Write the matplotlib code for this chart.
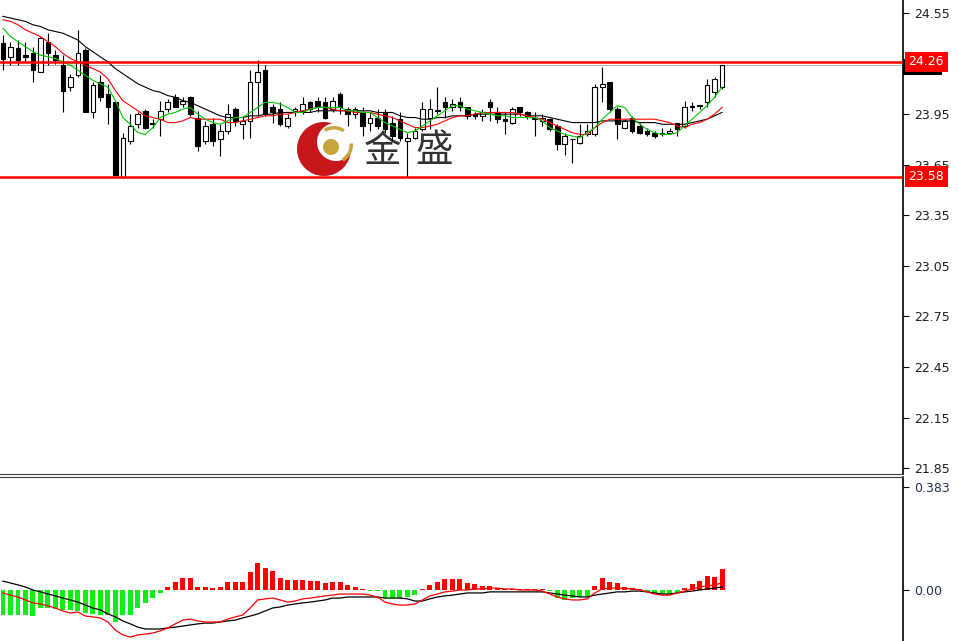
import numpy as np
import matplotlib
matplotlib.use("Agg")
import matplotlib.pyplot as plt
from matplotlib.patches import Circle, Wedge
from matplotlib.transforms import blended_transform_factory

# candles (one per bar)
opens = [24.37, 24.29, 24.34, 24.30, 24.31, 24.20, 24.38, 24.30, 24.24, 24.11,
         24.18, 24.33, 23.96, 24.14, 24.07, 24.02, 23.58, 23.79, 23.89, 23.97,
         23.89, 23.92, 23.98, 24.05, 24.01, 24.05, 23.93, 23.79, 23.89, 23.80,
         23.85, 23.98, 23.89, 23.91, 24.14, 24.21, 23.99, 23.98, 23.88, 23.97,
         23.97, 24.02, 24.03, 24.02, 23.98, 24.07, 23.98, 23.95, 23.96, 23.90,
         23.93, 23.96, 23.90, 23.92, 23.79, 23.81, 23.86, 23.93, 23.97, 24.02,
         23.99, 24.02, 23.99, 23.95, 23.94, 24.02, 23.96, 23.92, 23.90, 23.99,
         23.96, 23.93, 23.91, 23.92, 23.88, 23.77, 23.80, 23.78, 23.83, 23.83,
         24.11, 24.14, 23.98, 23.87, 23.93, 23.88, 23.85, 23.84, 23.83, 23.84,
         23.90, 23.88, 23.99, 24.00, 24.02, 24.08, 24.11]
highs = [24.42, 24.38, 24.39, 24.38, 24.35, 24.41, 24.43, 24.33, 24.30, 24.19,
         24.45, 24.34, 24.14, 24.18, 24.13, 24.02, 23.84, 23.95, 23.96, 23.98,
         23.92, 24.03, 24.04, 24.07, 24.05, 24.06, 23.97, 23.91, 23.93, 23.89,
         24.01, 23.99, 23.94, 24.21, 24.27, 24.24, 24.01, 24.02, 23.95, 23.99,
         24.05, 24.03, 24.05, 24.05, 24.05, 24.08, 23.99, 23.99, 23.99, 23.96,
         23.98, 23.98, 23.94, 23.96, 23.84, 23.87, 24.02, 24.04, 24.11, 24.05,
         24.04, 24.05, 23.99, 23.96, 23.98, 24.04, 23.99, 23.96, 23.99, 23.99,
         23.97, 23.96, 23.95, 23.93, 23.89, 23.84, 23.80, 23.89, 23.89, 24.13,
         24.23, 24.14, 23.99, 23.92, 23.94, 23.90, 23.87, 23.85, 23.87, 23.87,
         23.90, 24.03, 24.02, 24.00, 24.16, 24.17, 24.24]
lows = [24.21, 24.24, 24.24, 24.26, 24.14, 24.20, 24.24, 24.25, 23.96, 24.09,
        24.17, 23.96, 23.93, 24.03, 23.89, 23.59, 23.57, 23.77, 23.87, 23.86,
        23.87, 23.82, 23.96, 23.99, 23.99, 23.94, 23.73, 23.77, 23.76, 23.70,
        23.83, 23.88, 23.80, 23.81, 23.94, 23.94, 23.90, 23.88, 23.87, 23.94,
        23.95, 23.96, 23.96, 23.92, 23.96, 23.95, 23.88, 23.93, 23.82, 23.85,
        23.86, 23.84, 23.79, 23.79, 23.58, 23.80, 23.85, 23.86, 23.95, 23.93,
        23.97, 23.97, 23.92, 23.92, 23.91, 23.91, 23.90, 23.83, 23.89, 23.94,
        23.92, 23.82, 23.88, 23.85, 23.74, 23.71, 23.66, 23.77, 23.82, 23.82,
        24.02, 23.96, 23.80, 23.86, 23.84, 23.83, 23.82, 23.81, 23.82, 23.83,
        23.82, 23.87, 23.97, 23.98, 23.99, 24.05, 24.10]
closes = [24.28, 24.35, 24.27, 24.29, 24.21, 24.40, 24.31, 24.27, 24.09, 24.17,
          24.31, 23.96, 24.12, 24.05, 23.99, 23.59, 23.81, 23.88, 23.95, 23.87,
          23.90, 23.97, 24.02, 23.99, 24.03, 23.95, 23.76, 23.88, 23.79, 23.85,
          23.95, 23.91, 23.91, 24.14, 24.20, 23.95, 23.96, 23.89, 23.93, 23.98,
          24.01, 23.98, 23.99, 23.93, 24.03, 23.99, 23.95, 23.98, 23.88, 23.93,
          23.88, 23.86, 23.82, 23.81, 23.81, 23.85, 23.98, 23.98, 23.97, 23.99,
          24.01, 23.99, 23.94, 23.94, 23.96, 23.99, 23.92, 23.91, 23.98, 23.96,
          23.94, 23.92, 23.93, 23.86, 23.77, 23.82, 23.80, 23.82, 23.85, 24.11,
          24.13, 23.98, 23.89, 23.91, 23.85, 23.84, 23.83, 23.82, 23.84, 23.85,
          23.86, 23.99, 24.00, 24.00, 24.12, 24.16, 24.24]

# moving averages as drawn on the chart
ma_slow = [24.53, 24.52, 24.51, 24.50, 24.48, 24.47, 24.45, 24.44, 24.43, 24.41,
           24.39, 24.35, 24.32, 24.29, 24.26, 24.22, 24.19, 24.16, 24.13, 24.11,
           24.09, 24.08, 24.06, 24.05, 24.03, 24.02, 24.00, 23.98, 23.96, 23.94,
           23.93, 23.93, 23.93, 23.94, 23.94, 23.95, 23.95, 23.96, 23.96, 23.96,
           23.96, 23.96, 23.97, 23.97, 23.97, 23.97, 23.97, 23.97, 23.97, 23.97,
           23.96, 23.96, 23.96, 23.94, 23.93, 23.93, 23.92, 23.92, 23.93, 23.93,
           23.94, 23.94, 23.94, 23.95, 23.95, 23.95, 23.95, 23.95, 23.95, 23.95,
           23.94, 23.94, 23.94, 23.93, 23.92, 23.91, 23.90, 23.90, 23.90, 23.90,
           23.91, 23.91, 23.91, 23.91, 23.91, 23.90, 23.90, 23.90, 23.89, 23.89,
           23.89, 23.89, 23.90, 23.91, 23.92, 23.94, 23.96]
ma_mid = [24.51, 24.50, 24.48, 24.45, 24.43, 24.41, 24.38, 24.35, 24.31, 24.28,
          24.26, 24.24, 24.22, 24.20, 24.16, 24.09, 24.03, 24.00, 23.97, 23.94,
          23.93, 23.92, 23.90, 23.90, 23.91, 23.93, 23.92, 23.92, 23.92, 23.92,
          23.90, 23.90, 23.91, 23.92, 23.93, 23.94, 23.94, 23.95, 23.95, 23.96,
          23.97, 23.98, 23.99, 23.99, 23.98, 23.97, 23.97, 23.96, 23.96, 23.96,
          23.95, 23.94, 23.93, 23.91, 23.89, 23.87, 23.87, 23.88, 23.89, 23.91,
          23.93, 23.94, 23.94, 23.95, 23.96, 23.96, 23.96, 23.96, 23.96, 23.95,
          23.94, 23.93, 23.92, 23.90, 23.88, 23.86, 23.84, 23.83, 23.83, 23.87,
          23.90, 23.92, 23.92, 23.92, 23.92, 23.92, 23.92, 23.92, 23.91, 23.90,
          23.88, 23.87, 23.89, 23.90, 23.92, 23.95, 23.99]
ma_fast = [24.46, 24.41, 24.38, 24.35, 24.32, 24.30, 24.29, 24.28, 24.26, 24.24,
           24.21, 24.18, 24.15, 24.13, 24.11, 24.03, 23.93, 23.89, 23.84, 23.83,
           23.87, 23.93, 23.95, 23.96, 23.98, 23.99, 23.95, 23.92, 23.90, 23.89,
           23.91, 23.93, 23.93, 23.96, 23.99, 24.02, 24.02, 24.01, 23.99, 23.96,
           23.96, 23.98, 23.99, 23.99, 23.99, 23.99, 23.97, 23.97, 23.96, 23.96,
           23.93, 23.90, 23.88, 23.86, 23.84, 23.85, 23.88, 23.91, 23.94, 23.97,
           24.00, 24.00, 23.98, 23.97, 23.96, 23.95, 23.94, 23.94, 23.93, 23.93,
           23.93, 23.93, 23.91, 23.87, 23.85, 23.83, 23.82, 23.81, 23.84, 23.87,
           23.92, 23.96, 24.00, 23.99, 23.93, 23.89, 23.86, 23.84, 23.83, 23.83,
           23.84, 23.88, 23.92, 23.96, 24.00, 24.05, 24.11]

# MACD panel
macd_hist = [-0.093, -0.093, -0.093, -0.093, -0.097, -0.067, -0.067, -0.071, -0.074, -0.074,
             -0.078, -0.086, -0.089, -0.093, -0.093, -0.119, -0.093, -0.093, -0.067, -0.048,
             -0.030, -0.011, 0.012, 0.031, 0.045, 0.045, 0.012, 0.010, 0.006, 0.010,
             0.030, 0.030, 0.030, 0.067, 0.100, 0.082, 0.071, 0.045, 0.037, 0.037,
             0.037, 0.033, 0.033, 0.026, 0.030, 0.030, 0.019, 0.011, 0.003, -0.002,
             -0.003, -0.028, -0.028, -0.028, -0.025, -0.019, 0.003, 0.019, 0.030, 0.041,
             0.041, 0.041, 0.026, 0.022, 0.015, 0.015, 0.006, 0.004, 0.004, 0.003,
             0.003, 0.002, 0.002, -0.003, -0.031, -0.037, -0.031, -0.027, -0.027, 0.015,
             0.043, 0.031, 0.026, 0.011, 0.006, 0.002, -0.006, -0.012, -0.015, -0.015,
             -0.012, 0.006, 0.024, 0.033, 0.052, 0.050, 0.078]
macd_main = [-0.011, -0.019, -0.026, -0.037, -0.048, -0.052, -0.059, -0.067, -0.078, -0.086,
             -0.082, -0.097, -0.100, -0.104, -0.119, -0.149, -0.167, -0.175, -0.167, -0.164,
             -0.160, -0.152, -0.141, -0.126, -0.112, -0.108, -0.115, -0.119, -0.119, -0.119,
             -0.108, -0.100, -0.093, -0.067, -0.037, -0.033, -0.030, -0.037, -0.045, -0.041,
             -0.033, -0.030, -0.026, -0.022, -0.019, -0.015, -0.015, -0.015, -0.015, -0.019,
             -0.026, -0.045, -0.052, -0.056, -0.056, -0.052, -0.037, -0.022, -0.015, -0.007,
             -0.004, 0.000, 0.000, 0.004, 0.004, 0.007, 0.007, 0.004, 0.004, 0.000,
             0.000, 0.000, -0.004, -0.015, -0.026, -0.033, -0.037, -0.037, -0.033, -0.011,
             0.004, 0.007, 0.007, 0.007, 0.004, 0.000, -0.007, -0.015, -0.019, -0.019,
             -0.011, -0.004, 0.004, 0.011, 0.015, 0.019, 0.026]
macd_signal = [0.033, 0.026, 0.019, 0.011, 0.000, -0.007, -0.015, -0.022, -0.030, -0.037,
               -0.045, -0.056, -0.067, -0.074, -0.089, -0.100, -0.115, -0.126, -0.138, -0.145,
               -0.145, -0.145, -0.141, -0.138, -0.134, -0.130, -0.126, -0.123, -0.123, -0.119,
               -0.115, -0.112, -0.104, -0.097, -0.089, -0.078, -0.067, -0.063, -0.056, -0.052,
               -0.048, -0.045, -0.041, -0.037, -0.030, -0.030, -0.026, -0.026, -0.026, -0.026,
               -0.026, -0.030, -0.030, -0.030, -0.033, -0.041, -0.041, -0.033, -0.026, -0.022,
               -0.019, -0.015, -0.011, -0.011, -0.011, -0.007, -0.007, -0.007, -0.007, -0.007,
               -0.007, -0.007, -0.007, -0.011, -0.015, -0.019, -0.022, -0.026, -0.026, -0.019,
               -0.015, -0.011, -0.007, -0.007, -0.004, -0.004, -0.007, -0.011, -0.015, -0.015,
               -0.011, -0.007, -0.004, 0.000, 0.004, 0.007, 0.011]

resistance = 24.26
support = 23.58
last_price = 24.24
price_ticks = [24.55, 23.95, 23.65, 23.35, 23.05, 22.75, 22.45, 22.15, 21.85]
macd_ticks = [0.383, 0.0]
macd_tick_labels = ["0.383", "0.00"]

W, H = 958, 641


def px_rect(x0, y0, x1, y1):
    return [x0 / W, 1 - y1 / H, (x1 - x0) / W, (y1 - y0) / H]


fig = plt.figure(figsize=(W / 100, H / 100), dpi=100)
fig.patch.set_facecolor("white")

# watermark logo, drawn underneath the price panel
lg = fig.add_axes([0, 0, 1, 1], zorder=0)
lg.set_xlim(0, W); lg.set_ylim(H, 0); lg.axis("off")
lg.add_patch(Circle((324, 149), 27, color="#c8161d", lw=0))
lg.add_patch(Circle((336, 142), 19, color="white", lw=0))
lg.add_patch(Wedge((334, 145), 19, 238, 305, width=3.5, color="#c9a43a", lw=0))
lg.add_patch(Wedge((334, 145), 19, -5, 60, width=3.5, color="#c9a43a", lw=0))
lg.add_patch(Circle((331, 147), 8, color="#c9a43a", lw=0))
for ch, cx in (("金", 383), ("盛", 434)):
    lg.text(cx, 151, ch, fontsize=27, family=["Noto Sans CJK SC", "DejaVu Sans"],
            color="#333333", ha="center", va="center")

ax = fig.add_axes(px_rect(0, 0, 903, 474), zorder=1)
mx = fig.add_axes(px_rect(0, 477, 903, 641), zorder=1)
ax.patch.set_alpha(0)

idx = np.arange(len(closes))
o = np.array(opens); c = np.array(closes)
up = c >= o
ax.vlines(idx, lows, highs, color="black", lw=0.8, zorder=2)
ax.bar(idx, np.maximum(np.abs(c - o), 0.004), bottom=np.minimum(o, c), width=0.62,
       color=np.where(up, "white", "black"), edgecolor="black", lw=0.8, zorder=3)
ax.plot(idx, ma_slow, color="black", lw=0.8, zorder=4)
ax.plot(idx, ma_mid, color="#ff0000", lw=0.8, zorder=4)
ax.plot(idx, ma_fast, color="#00c800", lw=0.8, zorder=4)

ax.axhline(last_price, color="#b4b4b4", lw=0.8, zorder=1)
ax.axhline(resistance, color="#ff0000", lw=1.8, zorder=5)
ax.axhline(support, color="#ff0000", lw=1.8, zorder=5)

x0 = -3 / 7.49
ax.set_xlim(x0, x0 + 903 / 7.49)
ax.set_ylim(24.627 - 474 / 168.6, 24.627)
mx.set_xlim(x0, x0 + 903 / 7.49)
mx.set_ylim(-(641 - 590) * 0.003718, (590 - 477) * 0.003718)

for a in (ax, mx):
    a.set_xticks([])
    a.yaxis.tick_right()
    a.tick_params(axis="y", direction="out", length=4, width=0.8, pad=4, labelsize=9)
    a.spines["left"].set_visible(False)
    a.spines["right"].set_linewidth(1.2)
ax.spines["top"].set_visible(False)
mx.spines["bottom"].set_visible(False)
ax.spines["bottom"].set_color("#404040")
mx.spines["top"].set_color("#404040")

ax.set_yticks(price_ticks)
ax.set_yticklabels([f"{t:.2f}" for t in price_ticks], color="#202020")

# price tags on the right axis; the current-price tag sits mostly behind the resistance tag
tr = blended_transform_factory(ax.transAxes, ax.transData)
ax.text(1.004, last_price - 0.01, f"{last_price:.2f}", transform=tr, ha="left", va="center", fontsize=8,
        color="white", bbox=dict(boxstyle="square,pad=0.3", fc="black", ec="none"), zorder=9, clip_on=False)
for lvl in (resistance, support):
    ax.text(1.006, lvl, f"{lvl:.2f}", transform=tr, ha="left", va="center", fontsize=9, color="white",
            bbox=dict(boxstyle="square,pad=0.3", fc="#ff0000", ec="none"), zorder=10, clip_on=False)

h = np.array(macd_hist)
mx.bar(idx, h, width=0.66, color=np.where(h >= 0, "#ff0000", "#11ee11"), lw=0, zorder=2)
mx.plot(idx, macd_signal, color="black", lw=0.9, zorder=3)
mx.plot(idx, macd_main, color="#ff0000", lw=0.9, zorder=3)
mx.set_yticks(macd_ticks)
mx.set_yticklabels(macd_tick_labels, color="#24324a")

fig.savefig("out.png", dpi=100, facecolor="white")
